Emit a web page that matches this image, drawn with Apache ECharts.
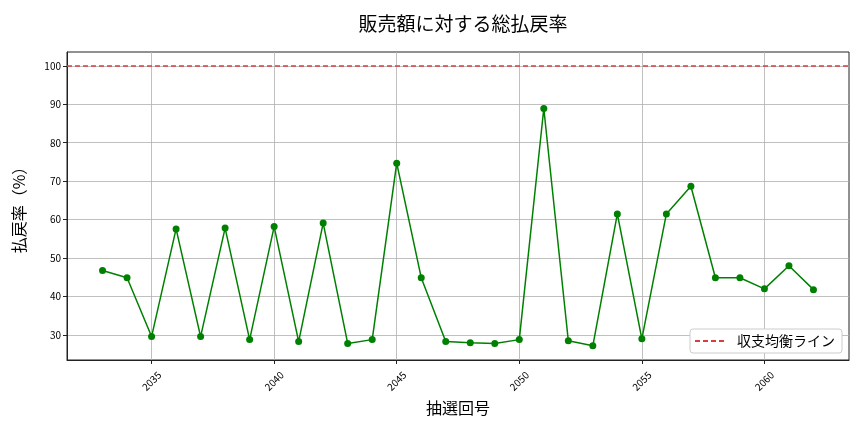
<!DOCTYPE html>
<html><head><meta charset="utf-8">
<script src="https://cdn.jsdelivr.net/npm/echarts@6/dist/echarts.min.js"></script>
<style>html,body{margin:0;padding:0;background:#fff}#c{width:864px;height:432px}</style>
</head><body><div id="c"></div>
<script>
const draws = [2033,2034,2035,2036,2037,2038,2039,2040,2041,2042,2043,2044,2045,2046,2047,2048,2049,2050,2051,2052,2053,2054,2055,2056,2057,2058,2059,2060,2061,2062];
const payoutRate = [46.8,44.9,29.6,57.6,29.6,57.8,28.8,58.2,28.3,59.1,27.8,28.8,74.7,44.9,28.3,28.0,27.8,28.8,88.9,28.5,27.2,61.5,29.0,61.5,68.7,44.9,44.9,42.0,48.0,41.8];
const breakEven = 100;
const xTicks = [2035,2040,2045,2050,2055,2060];
const yTicks = [30,40,50,60,70,80,90,100];

const font = '"Noto Sans CJK JP", "DejaVu Sans", sans-serif';
const chart = echarts.init(document.getElementById('c'), null, {renderer:'canvas'});
const xMin = draws[0] - (draws[draws.length-1]-draws[0])*0.05;
const xMax = draws[draws.length-1] + (draws[draws.length-1]-draws[0])*0.05;
const dashIcon = 'path://M0,0h5v2h-5z M8,0h5v2h-5z M16,0h5v2h-5z M24,0h5v2h-5z';
const red = '#dc3c3c';
chart.setOption({
  animation:false,
  textStyle:{fontFamily:font},
  title:{text:'販売額に対する総払戻率', left:458, top:9, textAlign:'center',
    textStyle:{fontFamily:font, fontSize:19, fontWeight:'normal', color:'#000'}},
  grid:{left:67, right:15, top:52, bottom:72, show:true, borderColor:'#222', borderWidth:1, backgroundColor:'transparent'},
  legend:{right:22, bottom:79, orient:'vertical',
    data:[{name:'収支均衡ライン', icon:dashIcon}],
    backgroundColor:'#fff', borderColor:'#ccc', borderWidth:1, borderRadius:3,
    padding:[5,7,5,5], itemWidth:29, itemHeight:2, itemGap:4,
    textStyle:{fontFamily:font, fontSize:14, color:'#000', padding:[0,0,0,8]}},
  xAxis:{type:'value', min:xMin, max:xMax,
    name:'抽選回号', nameLocation:'middle', nameGap:40,
    nameTextStyle:{fontFamily:font, fontSize:16, color:'#000'},
    axisLine:{show:true, lineStyle:{color:'#222'}},
    axisTick:{show:true, length:4, customValues:xTicks, lineStyle:{color:'#222'}},
    axisLabel:{customValues:xTicks, rotate:45, fontSize:10, color:'#000', margin:21,
      align:'center', verticalAlign:'middle', fontFamily:font,
      formatter:v=>String(v)},
    splitLine:{show:true, lineStyle:{color:'#b0b0b0', width:0.8}}},
  yAxis:{type:'value', min:23.5, max:103.6,
    name:'払戻率（%）', nameLocation:'middle', nameGap:40, nameRotate:90,
    nameTextStyle:{fontFamily:font, fontSize:16, color:'#000'},
    axisLine:{show:true, lineStyle:{color:'#222'}},
    axisTick:{show:true, length:4, customValues:yTicks, lineStyle:{color:'#222'}},
    axisLabel:{customValues:yTicks, fontSize:10, color:'#000', margin:6, fontFamily:font},
    splitLine:{show:true, lineStyle:{color:'#b0b0b0', width:0.8}}},
  series:[
    {name:'払戻率', type:'line', data:draws.map((d,i)=>[d,payoutRate[i]]),
     symbol:'circle', symbolSize:7, itemStyle:{color:'#008000'},
     lineStyle:{color:'#008000', width:1.5}, z:3},
    {name:'収支均衡ライン', type:'line', data:[], symbol:'none',
     itemStyle:{color:red},
     lineStyle:{color:red, type:[5,3], width:1.5},
     markLine:{silent:true, symbol:'none', label:{show:false},
       lineStyle:{color:red, type:[5,3], width:1.5},
       data:[{yAxis:breakEven}]}}
  ]
});
</script></body></html>
